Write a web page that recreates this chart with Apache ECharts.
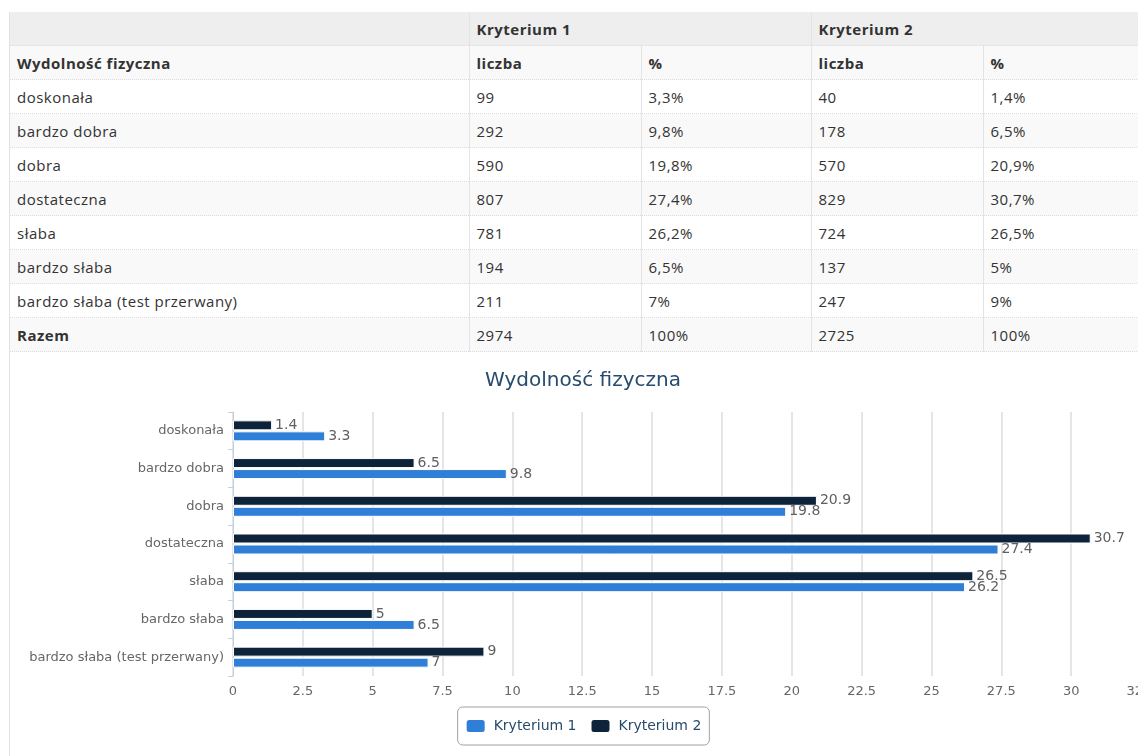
<!DOCTYPE html>
<html>
<head>
<meta charset="utf-8">
<script src="https://cdn.jsdelivr.net/npm/echarts@6/dist/echarts.min.js"></script>
<style>
  html, body {
    margin: 0;
    padding: 0;
    background: #ffffff;
    overflow: hidden;
    width: 1138px;
    height: 756px;
  }
  .wrap {
    position: absolute;
    left: 9px;
    top: 12px;
    width: 1160px;
    height: 760px;
    border-left: 1px solid #e2e2e2;
  }
  table {
    border-collapse: collapse;
    font-family: "Open Sans", sans-serif;
    font-size: 15px;
    letter-spacing: 0.5px;
    color: #333;
    table-layout: fixed;
  }
  td, th {
    height: 33px;
    padding: 0 7px;
    text-align: left;
    border-bottom: 1px dotted #dedede;
    white-space: nowrap;
  }
  th { font-weight: bold; }
  tr.h1 th { background: #eeeeee; }
  tr.h2 th { background: #f9f9f9; }
  tr.odd td { background: #f9f9f9; }
  .vl { border-left: 1px solid #e4e4e4; }
  #chart {
    position: absolute;
    left: 1px;
    top: 340px;
    width: 1144px;
    height: 404px;
  }
</style>
</head>
<body>
<div class="wrap">
  <table id="tbl"></table>
  <div id="chart"></div>
</div>
<script>
const categories = ['doskonała', 'bardzo dobra', 'dobra', 'dostateczna', 'słaba', 'bardzo słaba', 'bardzo słaba (test przerwany)'];
const counts1 = [99, 292, 590, 807, 781, 194, 211];
const pct1 = ['3,3%', '9,8%', '19,8%', '27,4%', '26,2%', '6,5%', '7%'];
const counts2 = [40, 178, 570, 829, 724, 137, 247];
const pct2 = ['1,4%', '6,5%', '20,9%', '30,7%', '26,5%', '5%', '9%'];
const totals = ['2974', '100%', '2725', '100%'];

const values1 = [3.3, 9.8, 19.8, 27.4, 26.2, 6.5, 7];
const values2 = [1.4, 6.5, 20.9, 30.7, 26.5, 5, 9];
const seriesNames = ['Kryterium 1', 'Kryterium 2'];

// table
const colWidths = [459, 172, 170, 172, 170];
let html = '<colgroup>' + colWidths.map(w => '<col style="width:' + w + 'px">').join('') + '</colgroup>';
html += '<tr class="h1"><th></th><th class="vl" colspan="2">' + seriesNames[0] + '</th><th class="vl" colspan="2">' + seriesNames[1] + '</th></tr>';
html += '<tr class="h2"><th>Wydolność fizyczna</th><th class="vl">liczba</th><th class="vl">%</th><th class="vl">liczba</th><th class="vl">%</th></tr>';
categories.forEach((c, i) => {
  html += '<tr class="' + (i % 2 === 1 ? 'odd' : '') + '"><td>' + c + '</td><td class="vl">' + counts1[i] + '</td><td class="vl">' + pct1[i] +
    '</td><td class="vl">' + counts2[i] + '</td><td class="vl">' + pct2[i] + '</td></tr>';
});
html += '<tr class="odd"><td><b>Razem</b></td>' + totals.map(t => '<td class="vl">' + t + '</td>').join('') + '</tr>';
document.getElementById('tbl').innerHTML = html;

// chart
const chart = echarts.init(document.getElementById('chart'));
const font = '"DejaVu Sans", Verdana, sans-serif';

const barLabel = {
  show: true,
  position: 'right',
  distance: 3,
  fontFamily: font,
  fontSize: 14,
  color: '#606060'
};

chart.setOption({
  animation: false,
  title: {
    text: 'Wydolność fizyczna',
    left: 'center',
    top: 14,
    textStyle: {
      fontFamily: font,
      fontSize: 20,
      fontWeight: 'normal',
      color: '#274b6d'
    }
  },
  legend: {
    data: seriesNames,
    left: 'center',
    top: 355,
    itemWidth: 20,
    itemHeight: 14,
    itemGap: 13,
    icon: 'roundRect',
    padding: [11, 8, 11, 7],
    borderColor: '#a0a0a0',
    borderWidth: 1,
    borderRadius: 5,
    textStyle: {
      fontFamily: font,
      fontSize: 14,
      color: '#274b6d',
      padding: [0, 0, 0, 3]
    }
  },
  grid: {
    left: 222,
    right: 14,
    top: 60,
    height: 264,
    outerBoundsMode: 'none'
  },
  xAxis: {
    type: 'value',
    min: 0,
    max: 32.5,
    interval: 2.5,
    axisLine: { show: false },
    axisTick: { show: false },
    axisLabel: {
      fontFamily: font,
      fontSize: 13,
      color: '#666',
      margin: 9,
      showMaxLabel: true
    },
    splitLine: {
      lineStyle: { color: '#dcdcdc', width: 1.5 }
    }
  },
  yAxis: {
    type: 'category',
    inverse: true,
    data: categories,
    axisLine: { lineStyle: { color: '#c0d0e0', width: 1 } },
    axisTick: { show: true, length: 5, lineStyle: { color: '#c0d0e0' } },
    axisLabel: {
      fontFamily: font,
      fontSize: 13,
      color: '#666',
      margin: 9
    }
  },
  series: [
    {
      name: seriesNames[1],
      type: 'bar',
      data: values2,
      barWidth: 10,
      barGap: '10%',
      itemStyle: { color: '#0d233a', borderColor: '#ffffff', borderWidth: 1 },
      label: barLabel
    },
    {
      name: seriesNames[0],
      type: 'bar',
      data: values1,
      barWidth: 10,
      barGap: '10%',
      itemStyle: { color: '#2f7ed8', borderColor: '#ffffff', borderWidth: 1 },
      label: barLabel
    }
  ]
});
</script>
</body>
</html>
